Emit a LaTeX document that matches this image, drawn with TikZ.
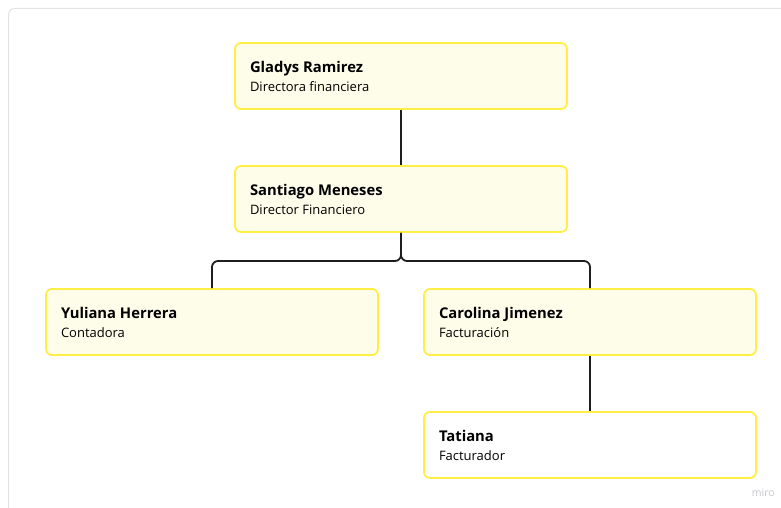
\documentclass[tikz,border=0pt]{standalone}
\usepackage{fontspec}
\setmainfont{Open Sans}
\definecolor{boxfill}{HTML}{FEFDE9}
\definecolor{boxline}{HTML}{FFEE44}
\definecolor{frameline}{HTML}{E2E2E2}
\definecolor{linkc}{HTML}{1E1E1E}
\definecolor{miroc}{HTML}{C4C4CC}
\tikzset{
  card/.style={draw=boxline, line width=1.8pt, fill=boxfill, rounded corners=6pt,
    minimum width=332pt, minimum height=66pt, inner sep=0pt},
  link/.style={draw=linkc, line width=1.8pt, rounded corners=6pt},
}
\newcommand{\cardtext}[2]{\raisebox{-2pt}{\parbox[c]{302pt}{\fontsize{14.8pt}{17pt}\selectfont\bfseries #1\\[4pt]\fontsize{13pt}{15pt}\mdseries\selectfont #2}}}
\begin{document}
\begin{tikzpicture}[x=1pt,y=-1pt]
\useasboundingbox (0,0) rectangle (781,508);
\begin{scope}
\clip (0,0) rectangle (781,508);
\draw[frameline, line width=1pt, rounded corners=6pt] (8.5,530) -- (8.5,8.5) -- (800,8.5);
\end{scope}
\node[card] (g) at (401,76) {\cardtext{Gladys Ramirez}{Directora financiera}};
\node[card] (s) at (401,199) {\cardtext{Santiago Meneses}{Director Financiero}};
\node[card] (y) at (212,322) {\cardtext{Yuliana Herrera}{Contadora}};
\node[card] (c) at (590,322) {\cardtext{Carolina Jimenez}{Facturación}};
\node[card, fill=white] (t) at (590,445) {\cardtext{Tatiana}{Facturador}};
\coordinate (j) at (401,261);
\draw[link] (g.south) -- (s.north);
\draw[link] (s.south) -- (j) -| (y.north);
\draw[link] (s.south) -- (j) -| (c.north);
\draw[link] (c.south) -- (t.north);
\node[text=miroc, font=\fontsize{10.5pt}{11pt}\selectfont, anchor=east, inner sep=0pt] (m) at (775,493) {miro};
\end{tikzpicture}
\end{document}
